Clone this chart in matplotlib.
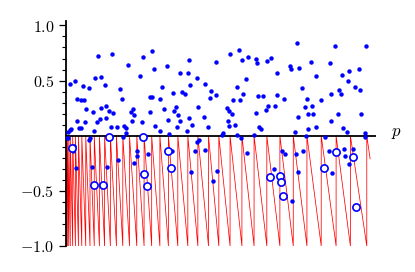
import matplotlib
matplotlib.use("Agg")
import matplotlib.pyplot as plt
from matplotlib.ticker import FixedLocator

plt.rcParams['mathtext.fontset'] = 'cm'
plt.rcParams['font.family'] = ['DejaVu Serif']

# filled points above / near the axis
dots_x = [0.009, 0.014, 0.018, 0.013, 0.032, 0.037, 0.036, 0.045, 0.050, 0.052,
          0.059, 0.057, 0.066, 0.065, 0.076, 0.091, 0.092, 0.098, 0.104, 0.105,
          0.112, 0.115, 0.116, 0.130, 0.132, 0.133, 0.144, 0.151, 0.149, 0.155,
          0.169, 0.180, 0.186, 0.192, 0.199, 0.198, 0.205, 0.214, 0.221, 0.218,
          0.225, 0.245, 0.252, 0.256, 0.276, 0.284, 0.276, 0.285, 0.292, 0.294,
          0.311, 0.312, 0.317, 0.325, 0.332, 0.336, 0.341, 0.352, 0.356, 0.362,
          0.369, 0.366, 0.375, 0.377, 0.384, 0.392, 0.401, 0.405, 0.405, 0.409,
          0.416, 0.398, 0.431, 0.434, 0.454, 0.459, 0.470, 0.477, 0.476, 0.494,
          0.496, 0.517, 0.515, 0.532, 0.538, 0.546, 0.533, 0.537, 0.540, 0.552,
          0.557, 0.565, 0.563, 0.570, 0.574, 0.580, 0.584, 0.593, 0.600, 0.620,
          0.625, 0.626, 0.629, 0.634, 0.650, 0.637, 0.644, 0.659, 0.665, 0.664,
          0.676, 0.690, 0.694, 0.697, 0.718, 0.738, 0.740, 0.756, 0.761, 0.764,
          0.769, 0.778, 0.786, 0.794, 0.796, 0.797, 0.806, 0.812, 0.813, 0.825,
          0.824, 0.841, 0.870, 0.873, 0.874, 0.886, 0.897, 0.898, 0.905, 0.910,
          0.914, 0.925, 0.933, 0.930, 0.953, 0.970, 0.973, 0.966, 0.985, 0.990]
dots_y = [0.036, 0.051, 0.057, 0.471, 0.498, 0.332, 0.136, 0.066, 0.073, 0.326,
          0.323, 0.447, 0.245, 0.127, 0.432, 0.218, 0.042, 0.520, 0.121, 0.725,
          0.151, 0.248, 0.529, 0.456, 0.160, 0.272, 0.221, 0.743, 0.082, 0.202,
          0.076, 0.420, 0.332, 0.091, 0.069, 0.021, 0.640, 0.218, 0.242, 0.130,
          0.187, 0.541, 0.121, 0.716, 0.353, 0.350, 0.218, 0.770, 0.601, 0.088,
          0.045, 0.332, 0.444, 0.242, 0.631, 0.139, 0.012, 0.384, 0.227, 0.260,
          0.184, 0.076, 0.133, 0.571, 0.393, 0.378, 0.571, 0.689, 0.163, 0.462,
          0.100, 0.039, 0.523, 0.263, 0.169, 0.471, 0.082, 0.405, 0.344, 0.665,
          0.369, 0.021, 0.009, 0.248, 0.221, 0.199, 0.133, 0.091, 0.737, 0.326,
          0.097, 0.444, 0.006, 0.779, 0.323, 0.686, 0.381, 0.511, 0.710, 0.006,
          0.202, 0.698, 0.662, 0.363, 0.360, 0.079, 0.060, 0.233, 0.269, 0.680,
          0.704, 0.272, 0.565, 0.366, 0.332, 0.628, 0.607, 0.036, 0.837, 0.172,
          0.616, 0.435, 0.263, 0.335, 0.196, 0.063, 0.668, 0.269, 0.199, 0.541,
          0.079, 0.326, 0.656, 0.378, 0.133, 0.816, 0.193, 0.417, 0.375, 0.550,
          0.069, 0.033, 0.586, 0.498, 0.438, 0.414, 0.193, 0.607, 0.021, 0.810]

# filled points below the axis
low_x = [0.005, 0.009, 0.027, 0.024, 0.034, 0.078, 0.080, 0.087, 0.136, 0.173,
         0.190, 0.226, 0.234, 0.236, 0.270, 0.349, 0.413, 0.426, 0.431, 0.439,
         0.460, 0.484, 0.498, 0.577, 0.596, 0.685, 0.712, 0.721, 0.746, 0.757,
         0.766, 0.780, 0.791, 0.853, 0.865, 0.878, 0.917, 0.918, 0.934, 0.945,
         0.986]
low_y = [-0.024, -0.018, -0.094, -0.139, -0.296, -0.042, -0.024, -0.287, -0.281, -0.224,
         -0.015, -0.248, -0.184, -0.136, -0.166, -0.136, -0.326, -0.136, -0.060, -0.042,
         -0.130, -0.408, -0.323, -0.024, -0.157, -0.302, -0.136, -0.166, -0.589, -0.169,
         -0.332, -0.136, -0.006, -0.015, -0.136, -0.341, -0.124, -0.184, -0.257, -0.121,
         -0.015]

# open circles
ring_x = [0.020, 0.093, 0.124, 0.141, 0.254, 0.258, 0.266, 0.336, 0.345,
          0.672, 0.704, 0.710, 0.714, 0.850, 0.891, 0.946, 0.954]
ring_y = [-0.109, -0.450, -0.450, -0.009, -0.012, -0.347, -0.453, -0.136, -0.296,
          -0.375, -0.366, -0.417, -0.547, -0.296, -0.145, -0.193, -0.647]

# sawtooth jump positions (value drops to -1, then resets to 0)
jumps = [0.0011, 0.0027, 0.0055, 0.010, 0.015, 0.023, 0.032, 0.042, 0.053, 0.066,
         0.080, 0.094, 0.111, 0.128, 0.147, 0.167, 0.188, 0.210, 0.234, 0.258,
         0.283, 0.310, 0.338, 0.369, 0.402, 0.435, 0.470, 0.504, 0.541, 0.580,
         0.620, 0.662, 0.705, 0.749, 0.794, 0.841, 0.890, 0.937, 0.991]
saw_end_x = 1.002
saw_end_y = -0.21

yticks_major = [-1.0, -0.5, 0.5, 1.0]
yticks_minor = [-0.9, -0.8, -0.7, -0.6, -0.4, -0.3, -0.2, -0.1,
                0.1, 0.2, 0.3, 0.4, 0.6, 0.7, 0.8, 0.9]

fig = plt.figure(figsize=(4.15, 2.72), dpi=100)
ax = fig.add_axes([0.1583, 0.0956, 0.748, 0.828])

# build sawtooth path
sx = [0.0]
sy = [0.0]
for j in jumps:
    sx += [j, j]
    sy += [-1.0, 0.0]
sx.append(saw_end_x)
sy.append(saw_end_y)
ax.plot(sx, sy, color='red', lw=0.55, zorder=2, solid_joinstyle='miter')

ax.axhline(0, color='black', lw=1.3, zorder=3)

ax.plot(dots_x, dots_y, 'o', color='blue', ms=3.2, mew=0, zorder=4)
ax.plot(low_x, low_y, 'o', color='blue', ms=3.2, mew=0, zorder=4)
ax.plot(ring_x, ring_y, 'o', mfc='white', mec='blue', ms=5.2, mew=1.2, zorder=5)

ax.set_xlim(0, 1.0217)
ax.set_ylim(-1.0, 1.042)

for s in ['top', 'right', 'bottom']:
    ax.spines[s].set_visible(False)
ax.spines['left'].set_linewidth(1.3)
ax.spines['left'].set_zorder(3)

ax.set_xticks([])
ax.yaxis.set_major_locator(FixedLocator(yticks_major))
ax.yaxis.set_minor_locator(FixedLocator(yticks_minor))
ax.set_yticklabels([r'$%.1f$' % v for v in yticks_major], fontsize=11.5)
ax.tick_params(axis='y', which='major', length=5.2, width=0.9, pad=3, direction='out')
ax.tick_params(axis='y', which='minor', length=2.6, width=0.8, direction='out')

ax.text(1.088, 0.03, r'$p$', fontsize=12, ha='center', va='center',
        transform=ax.transData, clip_on=False)

fig.savefig('out.png', dpi=100)
